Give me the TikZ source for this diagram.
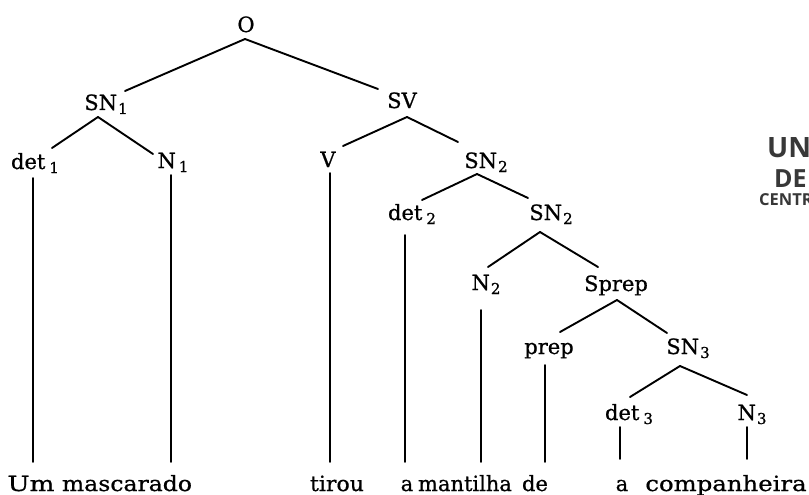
\documentclass[tikz,border=0pt]{standalone}
\usepackage{fontspec}
\setmainfont{DejaVu Serif}[FakeBold=0.8]
\newfontfamily\stampfont{Open Sans}
\usetikzlibrary{calc}
\newcommand\sbs[1]{\kern1pt\raisebox{-4pt}{\fontsize{15}{15}\selectfont #1}}
\newcommand\wide[2]{{\addfontfeature{FakeStretch=#1}#2}}
\begin{document}
\begin{tikzpicture}[x=1pt,y=-1pt,
  lab/.style={anchor=base,inner sep=0pt,font=\fontsize{21}{21}\selectfont},
  wrd/.style={lab},
  edge/.style={line width=1.9pt,line cap=round},
  stamp/.style={anchor=base west,inner sep=0pt,text=black!78}]
\useasboundingbox[fill=white] (0,0) rectangle (809,495);

% tree labels
\node[lab] (O)     at (246,32)  {O};
\node[lab] (SN1)   at (106,110) {SN\sbs{1}};
\node[lab] (SV)    at (402,108) {SV};
\node[lab] (det1)  at (35,169)  {det\kern3pt\sbs{1}};
\node[lab] (N1)    at (173,168) {N\kern2pt\sbs{1}};
\node[lab] (V)     at (328,167) {V};
\node[lab] (SN2)   at (486,168) {SN\sbs{2}};
\node[lab] (det2)  at (412,220) {det\kern3pt\sbs{2}};
\node[lab] (SN2b)  at (551,220) {SN\sbs{2}};
\node[lab] (N2)    at (486,290) {N\sbs{2}};
\node[lab] (Sprep) at (616,291) {Sprep};
\node[lab] (prep)  at (549,354) {prep};
\node[lab] (SN3)   at (688,354) {SN\sbs{3}};
\node[lab] (det3)  at (629,420) {det\kern3pt\sbs{3}};
\node[lab] (N3)    at (752,420) {N\sbs{3}};

% words
\node[wrd] (w1) at (31,491)  {\wide{1.25}{Um}};
\node[wrd] (w2) at (127,491) {\wide{1.12}{mascarado}};
\node[wrd] (w3) at (337,491) {\wide{1.05}{tirou}};
\node[wrd] (w4) at (407,491) {a};
\node[wrd] (w5) at (465,491) {mantilha};
\node[wrd] (w6) at (535,491) {de};
\node[wrd] (w7) at (622,491) {a};
\node[wrd] (w8) at (726,491) {\wide{1.16}{companheira}};

% branches
\draw[edge] ($(O.base)+(-1,7)$) -- ($(SN1.base)+(19,-19)$);
\draw[edge] ($(O.base)+(-1,7)$) -- ($(SV.base)+(-24,-19)$);
\draw[edge] ($(SN1.base)+(-8,7)$) -- ($(det1.base)+(17,-21)$);
\draw[edge] ($(SN1.base)+(-8,7)$) -- ($(N1.base)+(-20,-14)$);
\draw[edge] ($(SV.base)+(5,9)$) -- ($(V.base)+(15,-21)$);
\draw[edge] ($(SV.base)+(5,9)$) -- ($(SN2.base)+(-28,-26)$);
\draw[edge] ($(SN2.base)+(-9,6)$) -- ($(det2.base)+(10,-20)$);
\draw[edge] ($(SN2.base)+(-9,6)$) -- ($(SN2b.base)+(-23,-22)$);
\draw[edge] ($(SN2b.base)+(-11,12)$) -- ($(N2.base)+(2,-23)$);
\draw[edge] ($(SN2b.base)+(-11,12)$) -- ($(Sprep.base)+(-18,-24)$);
\draw[edge] ($(Sprep.base)+(1,9)$) -- ($(prep.base)+(11,-22)$);
\draw[edge] ($(Sprep.base)+(1,9)$) -- ($(SN3.base)+(-21,-21)$);
\draw[edge] ($(SN3.base)+(-8,12)$) -- ($(det3.base)+(1,-23)$);
\draw[edge] ($(SN3.base)+(-8,12)$) -- ($(N3.base)+(-5,-25)$);

% vertical lines to the words
\draw[edge] ($(det1.base)+(-2,9)$) -- ($(det1.base |- w1.base)+(-2,-29)$);
\draw[edge] ($(N1.base)+(-2,7)$) -- ($(N1.base |- w2.base)+(-2,-29)$);
\draw[edge] ($(V.base)+(2,6)$) -- ($(V.base |- w3.base)+(2,-29)$);
\draw[edge] ($(det2.base)+(-7,15)$) -- ($(det2.base |- w4.base)+(-7,-29)$);
\draw[edge] ($(N2.base)+(-5,20)$) -- ($(N2.base |- w5.base)+(-5,-29)$);
\draw[edge] ($(prep.base)+(-4,11)$) -- ($(prep.base |- w6.base)+(-4,-29)$);
\draw[edge] ($(det3.base)+(-9,7)$) -- ($(det3.base |- w7.base)+(-9,-32)$);
\draw[edge] ($(N3.base)+(-5,7)$) -- ($(N3.base |- w8.base)+(-5,-32)$);

% partial stamp at the right edge
\node[stamp,font=\stampfont\bfseries\fontsize{28}{28}\selectfont] (st1) at (767,157) {UN};
\node[stamp,font=\stampfont\bfseries\fontsize{25}{25}\selectfont] (st2) at (774,187) {DE};
\node[stamp,font=\stampfont\bfseries\fontsize{16.5}{16.5}\selectfont] (st3) at (759,205) {CENTR};
\end{tikzpicture}
\end{document}
